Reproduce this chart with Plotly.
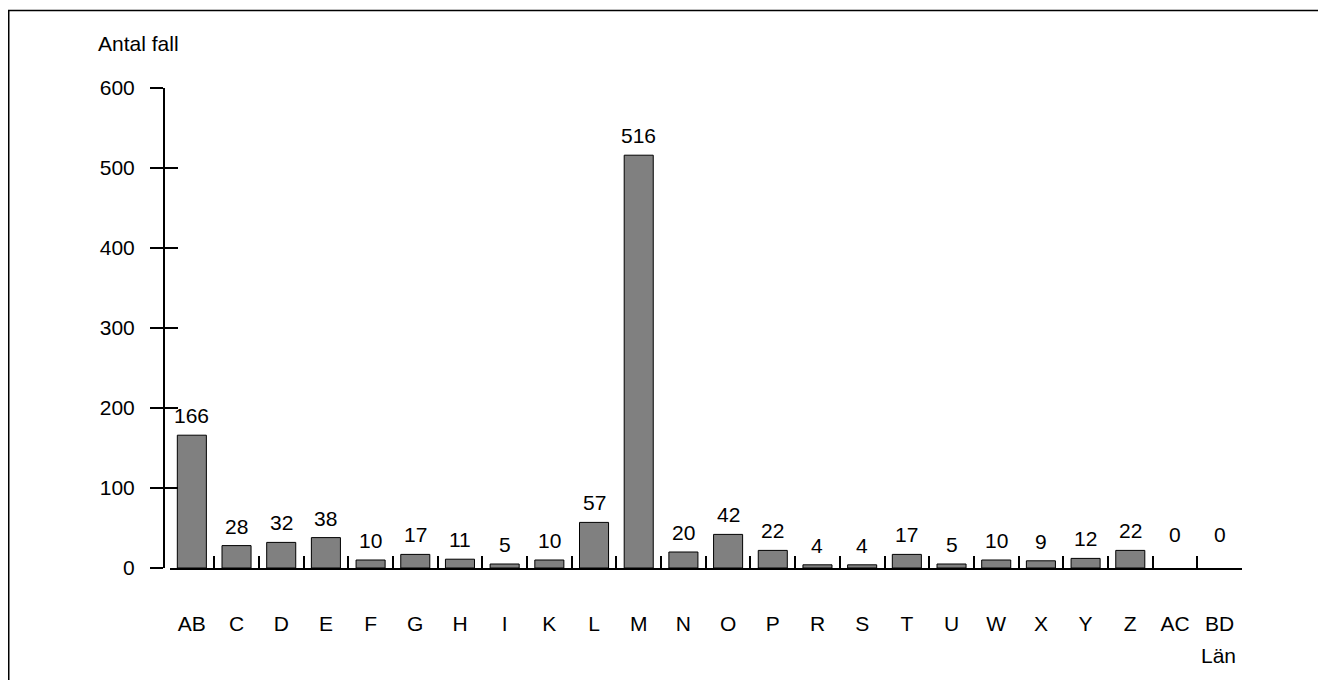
import plotly.graph_objects as go

categories = ["AB", "C", "D", "E", "F", "G", "H", "I", "K", "L", "M", "N",
              "O", "P", "R", "S", "T", "U", "W", "X", "Y", "Z", "AC", "BD"]
values = [166, 28, 32, 38, 10, 17, 11, 5, 10, 57, 516, 20,
          42, 22, 4, 4, 17, 5, 10, 9, 12, 22, 0, 0]
y_ticks = [0, 100, 200, 300, 400, 500, 600]
y_title = "Antal fall"
x_title = "Län"

FONT = "Arial, 'Liberation Sans', sans-serif"
FS = 21

# page is offset by the 8px body margin, so work in screen coords minus 8
OFF = 8
W, H = 1326, 680
ML, MR, MT, MB = 164 - OFF, W - (1242 - OFF), 88 - OFF, H - (568 - OFF)
PW = W - ML - MR
PH = H - MT - MB

def px_x(p):
    return (p - OFF - ML) / PW

def px_y(p):
    return (H - MB - (p - OFF)) / PH

fig = go.Figure()
fig.add_trace(go.Bar(
    x=categories, y=values, width=0.65,
    marker=dict(color="#808080",
                line=dict(color="#000000", width=[1 if v > 0 else 0 for v in values])),
    hoverinfo="x+y", showlegend=False,
))
# invisible trace to keep the crossing-tick overlay axis alive
fig.add_trace(go.Scatter(x=categories, y=values, mode="none", yaxis="y2",
                         hoverinfo="skip", showlegend=False))

annotations = []
for c, v in zip(categories, values):
    annotations.append(dict(
        x=c, y=v, xref="x", yref="y", text=str(v), showarrow=False,
        yanchor="bottom", yshift=6 if v > 0 else 20,
        font=dict(family=FONT, size=FS, color="#000000"),
    ))
annotations.append(dict(x=px_x(96), y=px_y(43), xref="paper", yref="paper",
                        text=y_title, showarrow=False, xanchor="left", yanchor="middle",
                        font=dict(family=FONT, size=FS, color="#000000")))
annotations.append(dict(x=px_x(1238), y=px_y(655), xref="paper", yref="paper",
                        text=x_title, showarrow=False, xanchor="right", yanchor="middle",
                        font=dict(family=FONT, size=FS, color="#000000")))

fig.update_layout(
    width=W, height=H,
    margin=dict(l=ML, r=MR, t=MT, b=MB, autoexpand=False),
    paper_bgcolor="#ffffff", plot_bgcolor="#ffffff",
    font=dict(family=FONT, size=FS, color="#000000"),
    xaxis=dict(
        domain=[5.5 / PW, 1], range=[-0.5, len(categories) - 0.5],
        type="category", tickson="boundaries",
        showline=True, linecolor="#000000", linewidth=2,
        ticks="inside", ticklen=12, tickwidth=2, tickcolor="#000000",
        ticklabelstandoff=36, showgrid=False, zeroline=False,
        tickfont=dict(family=FONT, size=FS, color="#000000"),
        automargin=False, anchor="y",
    ),
    yaxis=dict(
        range=[0, 600], tickvals=y_ticks, ticktext=[str(t) for t in y_ticks],
        anchor="free", position=0,
        showline=True, linecolor="#000000", linewidth=2,
        ticks="outside", ticklen=13, tickwidth=2, tickcolor="#000000",
        ticklabelstandoff=11, showgrid=False, zeroline=False,
        tickfont=dict(family=FONT, size=FS, color="#000000"),
        automargin=False,
    ),
    yaxis2=dict(
        range=[0, 600], tickvals=y_ticks, overlaying="y",
        anchor="free", position=0, side="left",
        showline=False, showticklabels=False,
        ticks="inside", ticklen=13, tickwidth=2, tickcolor="#000000",
        showgrid=False, zeroline=False, automargin=False,
    ),
    annotations=annotations,
    shapes=[dict(type="rect", xref="paper", yref="paper",
                 x0=px_x(8.75), x1=px_x(1345), y0=px_y(700), y1=px_y(10.5),
                 line=dict(color="#000000", width=1.5), fillcolor="rgba(0,0,0,0)",
                 layer="below")],
)

fig.write_html("out.html")
